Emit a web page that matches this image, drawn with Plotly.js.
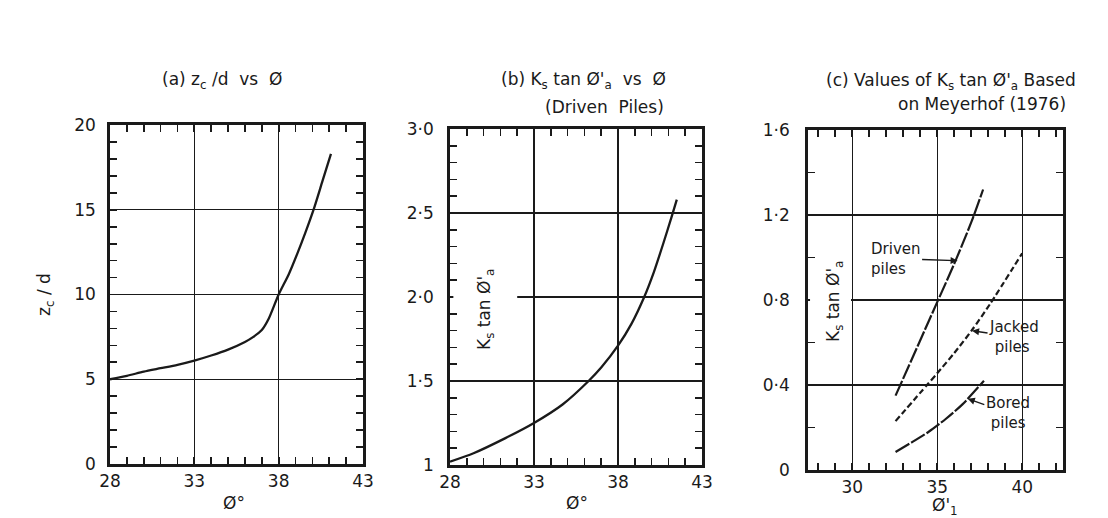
<!DOCTYPE html>
<html>
<head>
<meta charset="utf-8">
<script src="https://cdn.plot.ly/plotly-3.0.1.min.js"></script>
<style>
html,body{margin:0;padding:0;background:#fff;}
#chart{width:1108px;height:518px;}
</style>
</head>
<body>
<div id="chart"></div>
<script>
// ---- data ----
// (a) z_c/d vs phi
const aPhi = [28, 29, 30, 31, 32, 33, 34, 35, 36, 36.5, 37, 37.4, 38, 38.6, 39.1, 39.6, 40.1, 40.6, 41.1];
const aZcd = [5.0, 5.2, 5.45, 5.65, 5.85, 6.1, 6.4, 6.75, 7.2, 7.5, 7.9, 8.55, 10.0, 11.2, 12.4, 13.7, 15.1, 16.7, 18.3];
// (b) Ks tan phi'a vs phi (driven piles)
const bPhi = [28, 29.4, 31.3, 33, 34.7, 36.25, 37, 38, 38.8, 39.56, 40.14, 40.7, 41.2, 41.5];
const bK   = [1.02, 1.07, 1.16, 1.25, 1.36, 1.5, 1.58, 1.71, 1.84, 2.0, 2.15, 2.32, 2.48, 2.58];
// (c) Meyerhof (1976)
const cPhiDriven = [32.55, 33.5, 34.5, 35, 36, 37, 37.7];
const cDriven    = [0.35, 0.52, 0.70, 0.79, 0.97, 1.165, 1.32];
const cPhiJacked = [32.55, 34.4, 35, 36, 37.06, 38.1, 40];
const cJacked    = [0.23, 0.4, 0.455, 0.55, 0.66, 0.78, 1.02];
const cPhiBored  = [32.55, 33.5, 34.5, 35.5, 36.5, 37.75];
const cBored     = [0.085, 0.13, 0.18, 0.24, 0.31, 0.42];
// tick labels
const aXTicks = [28, 33, 38, 43];
const aYTicks = [0, 5, 10, 15, 20];
const bYTickVals = [1, 1.5, 2, 2.5, 3];
const bYTickText = ['1', '1·5', '2·0', '2·5', '3·0'];
const cXTicks = [30, 35, 40];
const cYTickVals = [0, 0.4, 0.8, 1.2, 1.6];
const cYTickText = ['0', '0·4', '0·8', '1·2', '1·6'];

// ---- helpers ----
const W = 1108, H = 518;
const fx = p => p / W;
const fy = p => 1 - p / H;
const INK = '#1a1a1a';
const FONT = 'DejaVu Sans, sans-serif';
const S = '\u00a0';

function axisBase(extra) {
  return Object.assign({
    showline: true, linecolor: INK, linewidth: 2.8, mirror: 'allticks',
    ticks: 'inside', ticklen: 7, tickwidth: 1.7, tickcolor: INK,
    showgrid: true, gridcolor: INK, gridwidth: 1.4,
    zeroline: false, fixedrange: true,
    tickfont: {family: FONT, size: 17, color: INK}
  }, extra);
}
function minor(d) {
  return {dtick: d, ticks: 'inside', ticklen: 7, tickwidth: 1.7, tickcolor: INK, showgrid: false};
}

const line = (w, dash) => ({color: INK, width: w, dash: dash, shape: 'spline', smoothing: 0.7});

const traces = [
  {x: aPhi, y: aZcd, xaxis: 'x', yaxis: 'y', mode: 'lines', line: line(2.3), hoverinfo: 'skip'},
  {x: bPhi, y: bK, xaxis: 'x2', yaxis: 'y2', mode: 'lines', line: line(2.3), hoverinfo: 'skip'},
  {x: cPhiDriven, y: cDriven, xaxis: 'x3', yaxis: 'y3', mode: 'lines', line: line(2.2, '16px,2px'), hoverinfo: 'skip'},
  {x: cPhiJacked, y: cJacked, xaxis: 'x3', yaxis: 'y3', mode: 'lines', line: line(2.2, '6px,3px'), hoverinfo: 'skip'},
  {x: cPhiBored, y: cBored, xaxis: 'x3', yaxis: 'y3', mode: 'lines', line: line(2.2, '16px,2px'), hoverinfo: 'skip'}
];

function txt(text, x, y, size, extra) {
  return Object.assign({
    text: text, xref: 'paper', yref: 'paper', x: fx(x), y: fy(y),
    xanchor: 'center', yanchor: 'middle', showarrow: false,
    font: {family: FONT, size: size, color: INK}
  }, extra || {});
}

const annotations = [
  // panel titles
  txt('(a)' + S + 'z<sub>c</sub>' + S + '/d' + S + S + 'vs' + S + S + 'Ø', 222, 80, 17),
  txt("(b)" + S + "K<sub>s</sub>" + S + "tan" + S + "Ø'<sub>a</sub>" + S + S + "vs" + S + S + "Ø", 583, 80, 17),
  txt('(Driven' + S + S + 'Piles)', 604, 107, 17),
  txt("(c)" + S + "Values" + S + "of" + S + "K<sub>s</sub>" + S + "tan" + S + "Ø'<sub>a</sub>" + S + "Based", 951, 81, 17),
  txt('on' + S + 'Meyerhof' + S + '(1976)', 982, 104, 17),
  // axis titles
  txt('Ø°', 234, 503, 17),
  txt('Ø°', 577, 503, 17),
  txt("Ø'<sub>1</sub>", 945, 506, 17),
  txt('z<sub>c</sub>' + S + '/' + S + 'd', 45, 295, 17, {textangle: -90}),
  txt("K<sub>s</sub>" + S + "tan" + S + "Ø'<sub>a</sub>", 485, 310, 17, {textangle: -90}),
  txt("K<sub>s</sub>" + S + "tan" + S + "Ø'<sub>a</sub>", 834, 302, 17, {textangle: -90}),
  // curve labels in (c)
  {text: 'Driven<br>piles', xref: 'x3', yref: 'y3', x: 36.2, y: 0.985, ax: -62, ay: -2,
   showarrow: true, arrowhead: 2, arrowsize: 1, arrowwidth: 1.4, arrowcolor: INK, align: 'left',
   font: {family: FONT, size: 15, color: INK}},
  {text: 'Jacked<br>' + S + 'piles', xref: 'x3', yref: 'y3', x: 37.05, y: 0.655, ax: 42, ay: 6,
   showarrow: true, arrowhead: 2, arrowsize: 1, arrowwidth: 1.4, arrowcolor: INK, align: 'left',
   font: {family: FONT, size: 15, color: INK}},
  {text: 'Bored<br>' + S + 'piles', xref: 'x3', yref: 'y3', x: 36.8, y: 0.335, ax: 40, ay: 14,
   showarrow: true, arrowhead: 2, arrowsize: 1, arrowwidth: 1.4, arrowcolor: INK, align: 'left',
   font: {family: FONT, size: 15, color: INK}}
];

const shapes = [
  // gaps in gridlines behind the rotated y-axis labels
  {type: 'rect', xref: 'x2', yref: 'y2', x0: 28.2, x1: 32.0, y0: 1.988, y1: 2.012, fillcolor: '#fff', line: {width: 0}, layer: 'above'},
  {type: 'rect', xref: 'x3', yref: 'y3', x0: 27.52, x1: 29.93, y0: 0.792, y1: 0.808, fillcolor: '#fff', line: {width: 0}, layer: 'above'}
];

const layout = {
  width: W, height: H,
  margin: {l: 0, r: 0, t: 0, b: 0},
  paper_bgcolor: '#fff', plot_bgcolor: '#fff',
  showlegend: false,
  font: {family: FONT, color: INK},
  xaxis: axisBase({domain: [fx(110), fx(363)], range: [28, 43], anchor: 'y', tickvals: aXTicks, minor: minor(1), ticklabelstandoff: 0}),
  yaxis: axisBase({domain: [fy(464), fy(125)], range: [0, 20], anchor: 'x', tickvals: aYTicks, minor: minor(1), ticklabelstandoff: 8}),
  xaxis2: axisBase({domain: [fx(450), fx(702)], range: [28, 43], anchor: 'y2', tickvals: aXTicks, minor: minor(1), ticklabelstandoff: 0}),
  yaxis2: axisBase({domain: [fy(465), fy(129)], range: [1, 3], anchor: 'x2', tickvals: bYTickVals, ticktext: bYTickText, minor: minor(0.1), ticklabelstandoff: 10}),
  xaxis3: axisBase({domain: [fx(808), fx(1063)], range: [27.4, 42.4], anchor: 'y3', tickvals: cXTicks, minor: minor(1), ticklabelstandoff: 0}),
  yaxis3: axisBase({domain: [fy(470), fy(130)], range: [0, 1.6], anchor: 'x3', tickvals: cYTickVals, ticktext: cYTickText, minor: minor(0.2), ticklabelstandoff: 12}),
  annotations: annotations,
  shapes: shapes
};

Plotly.newPlot('chart', traces, layout, {staticPlot: true, displayModeBar: false});
</script>
</body>
</html>
